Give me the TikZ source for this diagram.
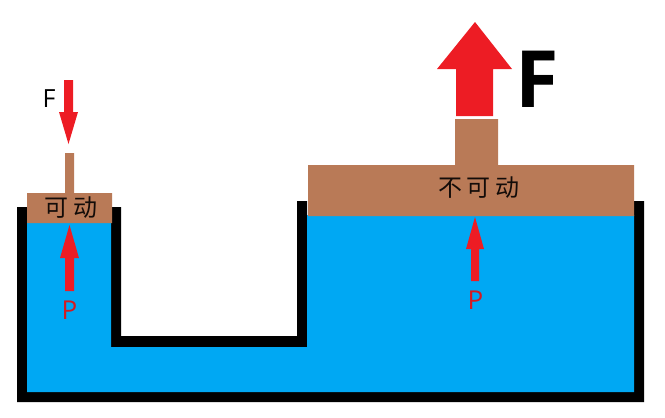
\documentclass[tikz,border=0pt]{standalone}
\usepackage{fontspec}
\setmainfont{Open Sans}
\newfontfamily\cjk{Noto Sans CJK SC}
\definecolor{liq}{HTML}{00A8F3}
\definecolor{wood}{HTML}{B97A57}
\definecolor{arrowred}{HTML}{ED1C24}
\tikzset{
  vessel/.style={fill=black,draw=none},
  liquid/.style={fill=liq,draw=none},
  piston/.style={fill=wood,draw=none},
  force/.style={fill=arrowred,draw=none},
  cjktext/.style={inner sep=0pt,anchor=base,text=black!90!wood,font=\cjk\fontsize{24}{24}\selectfont},
  redlabel/.style={inner sep=0pt,anchor=base,text=arrowred!90!black,font=\fontsize{26}{26}\selectfont},
}
\begin{document}
\begin{tikzpicture}[x=1pt,y=-1pt]
\useasboundingbox (0,0) rectangle (665,418);
% vessel
\fill[vessel] (17,207) -- (17,402) -- (644,402) -- (644,201) -- (634,201) -- (634,216) -- (307,216) -- (307,201) -- (297,201) -- (297,336) -- (121,336) -- (121,207) -- (111,207) -- (111,223) -- (27,223) -- (27,207) -- cycle;
\fill[vessel] (297,336) rectangle (308,347);
% liquid
\fill[liquid] (27,222) -- (111,222) -- (111,347) -- (307,347) -- (307,215) -- (634,215) -- (634,392) -- (27,392) -- cycle;
% small piston
\fill[piston] (65,153) -- (74,153) -- (74,193) -- (112,193) -- (112,223) -- (27,223) -- (27,193) -- (65,193) -- cycle;
% large piston
\fill[piston] (455,119) -- (498,119) -- (498,165) -- (634,165) -- (634,216) -- (308,216) -- (308,165) -- (455,165) -- cycle;
% arrows
\fill[force] (64,80) -- (73,80) -- (73,112) -- (78,112) -- (68.5,144) -- (59,112) -- (64,112) -- cycle;
\fill[force] (69.5,225) -- (79,258) -- (74,258) -- (74,291) -- (65,291) -- (65,258) -- (60,258) -- cycle;
\fill[force] (475,22) -- (512,69) -- (493,69) -- (493,116) -- (456,116) -- (456,69) -- (437,69) -- cycle;
\fill[force] (475,217) -- (484,249) -- (479,249) -- (479,281) -- (471,281) -- (471,249) -- (466,249) -- cycle;
% labels
\node[inner sep=0pt,anchor=base,text=black,font=\fontsize{25}{25}\selectfont] (fsmall) at (49,107) {F};
\node[inner sep=0pt,anchor=base,text=black,font=\bfseries\fontsize{79}{79}\selectfont] (fbig) at (537,107) {F};
\node[redlabel] (psmall) at (69.5,319) {P};
\node[redlabel] (pbig) at (475.5,309) {P};
\node[cjktext] (movable) at (71,216.5) {可\hspace{6pt}动};
\node[cjktext] (fixed) at (479,196.5) {不\hspace{5pt}可\hspace{5pt}动};
\end{tikzpicture}
\end{document}
